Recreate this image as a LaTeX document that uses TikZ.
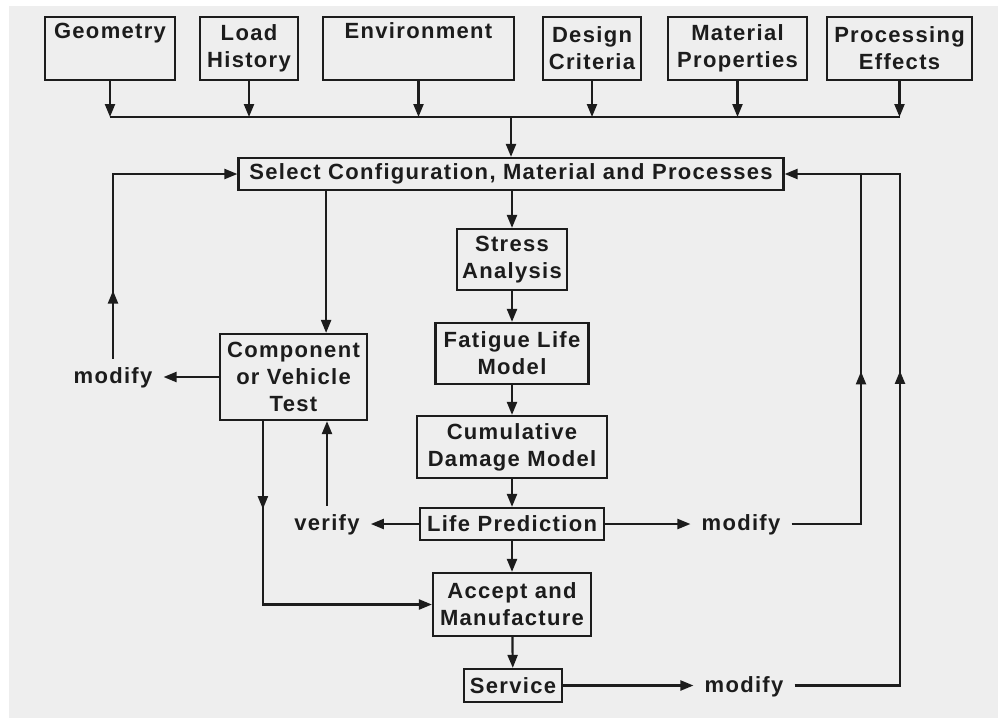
\documentclass[tikz,border=0pt]{standalone}
\usepackage{fontspec}
\setmainfont{Liberation Sans}[LetterSpace=6]
\usetikzlibrary{arrows.meta,decorations.markings,calc}
\definecolor{ink}{RGB}{28,28,28}
\definecolor{paper}{RGB}{238,238,238}
\tikzset{
  box/.style={draw=ink, line width=2.2pt, inner sep=0pt, align=center, text=ink},
  lbl/.style={inner xsep=11pt, inner ysep=9pt, text=ink},
  conn/.style={draw=ink, line width=2.2pt},
  tip/.tip={Triangle[length=13pt,width=10pt]},
  arr/.style={conn, -tip},
  midarr/.style={conn, postaction={decorate},
    decoration={markings, mark=at position #1 with {\arrow{tip}}}},
}
\begin{document}
\begin{tikzpicture}[x=1pt,y=-1pt,font=\fontsize{22}{27}\selectfont\bfseries]
\useasboundingbox (0,0) rectangle (998,718);
\fill[white] (0,0) rectangle (998,718);
\fill[paper] (9,6) rectangle (998,718);

% top inputs
\node[box, minimum width=130pt, minimum height=63pt] (geo) at (110,48.5) {Geometry\\\strut};
\node[box, minimum width=98pt, minimum height=63pt] (load) at (249,48.5) {Load\\History};
\node[box, minimum width=191pt, minimum height=63pt] (env) at (418.5,48.5) {Environment\\\strut};
\node[box, minimum width=98pt, minimum height=63pt] (des) at (592,48.5) {Design\\Criteria};
\node[box, minimum width=139pt, minimum height=63pt] (mat) at (737.5,48.5) {Material\\Properties};
\node[box, minimum width=145pt, minimum height=63pt] (proc) at (899.5,48.5) {Processing\\Effects};

\coordinate (busL) at (110,117);
\coordinate (busR) at (899.5,117);

% main column
\node[box, minimum width=545pt, minimum height=32pt] (sel) at (511,174) {Select Configuration, Material and Processes};
\node[box, minimum width=110pt, minimum height=61pt] (stress) at (512,259.5) {Stress\\Analysis};
\node[box, minimum width=153pt, minimum height=61pt] (fat) at (512,353.5) {Fatigue Life\\Model};
\node[box, minimum width=190pt, minimum height=62pt] (cum) at (512,447) {Cumulative\\Damage Model};
\node[box, minimum width=184pt, minimum height=32pt] (life) at (512,524) {Life Prediction};
\node[box, minimum width=158pt, minimum height=63pt] (acc) at (512,604.5) {Accept and\\Manufacture};
\node[box, minimum width=98pt, minimum height=33pt] (serv) at (513,685.5) {Service};

% test branch
\node[box, minimum width=147pt, minimum height=86pt] (comp) at (293.5,377) {Component\\or Vehicle\\Test};

% labels
\node[lbl] (modL) at (113,378) {modify};
\node[lbl] (ver) at (327,525) {verify};
\node[lbl] (modA) at (741,525) {modify};
\node[lbl] (modB) at (744,687) {modify};

\coordinate (j1) at (861,174);
\coordinate (j2) at (900,174);
\coordinate (cin) at ($(comp.north east)+(-42,0)$);
\coordinate (cout) at ($(comp.south west)+(44,0)$);

% inputs to bus
\foreach \n in {geo,load,env,des,mat,proc}
  \draw[arr] (\n.south) -- (\n.south |- busL);
\draw[conn] (busL) -- (busR);
\draw[arr] (sel.north |- busL) -- (sel.north);

% main chain
\draw[arr] (sel.south -| stress.north) -- (stress.north);
\draw[arr] (stress) -- (fat);
\draw[arr] (fat) -- (cum);
\draw[arr] (cum) -- (life);
\draw[arr] (life) -- (acc);
\draw[arr] (acc) -- (serv);

% test branch
\draw[arr] (sel.south -| cin) -- (cin);
\draw[arr] (comp.west) -- (comp.west -| modL.east);
\draw[midarr=68pt, -tip] (modL.north) |- (sel.west);
\draw[arr] (life.west) -- (life.west -| ver.east);
\draw[arr] (ver.north) -- (ver.north |- comp.south);
\draw[midarr=88pt, -tip] (cout) |- (acc.west);

% right feedback loops
\draw[arr] (life.east) -- (life.east -| modA.west);
\draw[midarr=222pt] (life.east -| modA.east) -| (j1);
\draw[arr] (serv.east) -- (serv.east -| modB.west);
\draw[midarr=420pt, -tip] (serv.east -| modB.east) -| (j2) -- (sel.east);
\end{tikzpicture}
\end{document}
